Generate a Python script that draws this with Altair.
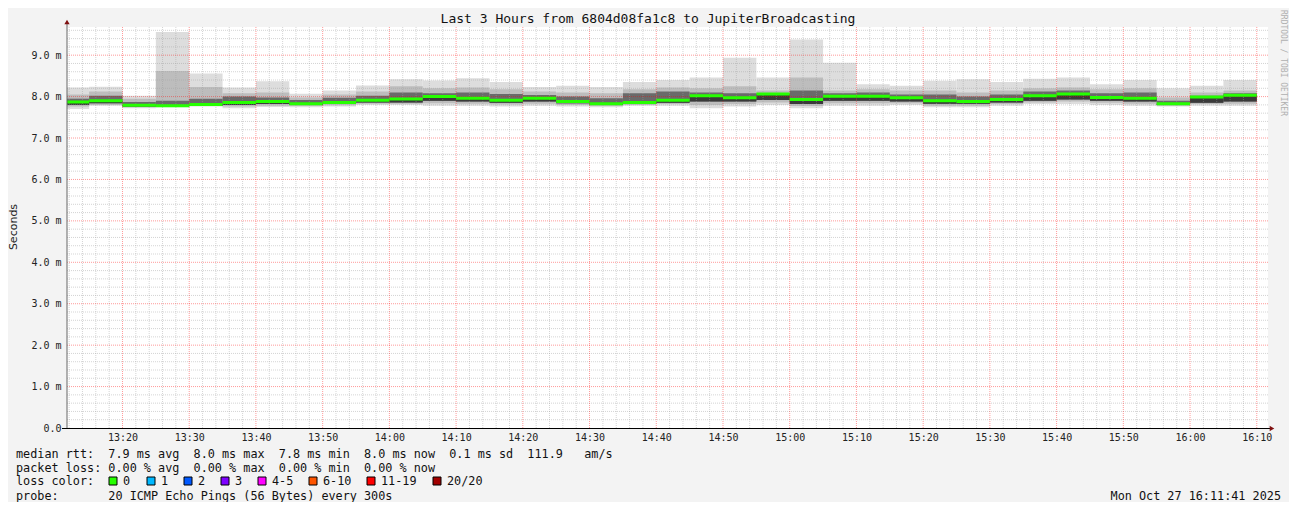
import altair as alt
import pandas as pd

# ---------------- data ----------------
window_start = "13:11:41"
window_end = "16:11:41"

bar_end = ["13:15", "13:20", "13:25", "13:30", "13:35", "13:40", "13:45", "13:50",
           "13:55", "14:00", "14:05", "14:10", "14:15", "14:20", "14:25", "14:30",
           "14:35", "14:40", "14:45", "14:50", "14:55", "15:00", "15:05", "15:10",
           "15:15", "15:20", "15:25", "15:30", "15:35", "15:40", "15:45", "15:50",
           "15:55", "16:00", "16:05", "16:10"]

hi = [8.22, 8.24, 8.02, 9.56, 8.56, 8.22, 8.37, 8.07, 8.15, 8.27, 8.42, 8.39,
      8.44, 8.35, 8.23, 8.26, 8.23, 8.35, 8.40, 8.46, 8.94, 8.46, 9.38, 8.82,
      8.30, 8.26, 8.38, 8.42, 8.35, 8.43, 8.46, 8.30, 8.40, 8.20, 8.26, 8.40]
mid_hi = [8.05, 8.12, 7.95, 8.62, 8.23, 8.08, 8.10, 7.98, 8.05, 8.12, 8.25, 8.20,
          8.22, 8.18, 8.12, 8.10, 8.08, 8.18, 8.22, 8.20, 8.25, 8.15, 8.46, 8.15,
          8.18, 8.15, 8.15, 8.10, 8.15, 8.20, 8.22, 8.18, 8.20, 7.98, 8.10, 8.15]
dark_hi = [7.95, 8.02, 7.87, 7.90, 7.95, 8.00, 7.98, 7.92, 7.97, 8.02, 8.10, 8.08,
           8.10, 8.06, 8.04, 8.00, 7.96, 8.08, 8.12, 8.10, 8.08, 8.08, 8.15, 8.08,
           8.10, 8.05, 8.05, 8.00, 8.05, 8.12, 8.15, 8.08, 8.10, 7.90, 8.02, 8.08]
median = [7.87, 7.90, 7.79, 7.78, 7.81, 7.86, 7.88, 7.83, 7.86, 7.91, 7.94, 8.00,
          7.96, 7.91, 7.96, 7.88, 7.83, 7.86, 7.91, 8.02, 7.97, 8.06, 7.93, 8.01,
          8.01, 7.97, 7.90, 7.88, 7.93, 8.02, 8.06, 7.98, 7.96, 7.83, 7.99, 8.03]
dark_lo = [7.80, 7.84, 7.76, 7.76, 7.78, 7.80, 7.82, 7.80, 7.82, 7.86, 7.86, 7.90,
           7.88, 7.85, 7.88, 7.84, 7.80, 7.82, 7.85, 7.88, 7.88, 7.92, 7.82, 7.90,
           7.90, 7.88, 7.83, 7.83, 7.86, 7.90, 7.93, 7.90, 7.88, 7.80, 7.85, 7.88]
mid_lo = [7.76, 7.80, 7.74, 7.75, 7.77, 7.76, 7.78, 7.77, 7.79, 7.83, 7.83, 7.84,
          7.83, 7.81, 7.83, 7.80, 7.77, 7.80, 7.82, 7.80, 7.82, 7.86, 7.77, 7.84,
          7.84, 7.84, 7.78, 7.78, 7.82, 7.86, 7.88, 7.85, 7.83, 7.78, 7.82, 7.83]
lo = [7.70, 7.78, 7.72, 7.74, 7.76, 7.72, 7.75, 7.74, 7.76, 7.80, 7.80, 7.78,
      7.78, 7.76, 7.78, 7.76, 7.74, 7.78, 7.78, 7.72, 7.76, 7.80, 7.72, 7.78,
      7.78, 7.80, 7.74, 7.74, 7.78, 7.82, 7.82, 7.80, 7.78, 7.76, 7.78, 7.78]

y_ticks = [0, 1, 2, 3, 4, 5, 6, 7, 8, 9]
x_tick_labels = ["13:20", "13:30", "13:40", "13:50", "14:00", "14:10", "14:20",
                 "14:30", "14:40", "14:50", "15:00", "15:10", "15:20", "15:30",
                 "15:40", "15:50", "16:00", "16:10"]

title_text = "Last 3 Hours from 6804d08fa1c8 to JupiterBroadcasting"
legend_lines = [
    "median rtt:  7.9 ms avg  8.0 ms max  7.8 ms min  8.0 ms now  0.1 ms sd  111.9   am/s",
    "packet loss: 0.00 % avg  0.00 % max  0.00 % min  0.00 % now",
    "loss color:",
    "probe:       20 ICMP Echo Pings (56 Bytes) every 300s",
]
loss_labels = ["0", "1", "2", "3", "4-5", "6-10", "11-19", "20/20"]
loss_colors = ["#26FF00", "#00B8FF", "#0059FF", "#7E00FF", "#FF00FF", "#FF5500", "#FF0000", "#A10000"]
timestamp = "Mon Oct 27 16:11:41 2025"
side_text = "RRDTOOL / TOBI OETIKER"


def to_min(s):
    parts = [int(p) for p in s.split(":")]
    while len(parts) < 3:
        parts.append(0)
    return parts[0] * 60 + parts[1] + parts[2] / 60.0


x0 = to_min(window_start)
x1 = to_min(window_end)
ends = [to_min(s) for s in bar_end]
starts = [x0] + ends[:-1]

df = pd.DataFrame({
    "start": starts, "end": ends, "hi": hi, "mid_hi": mid_hi, "dark_hi": dark_hi,
    "median": median, "dark_lo": dark_lo, "mid_lo": mid_lo, "lo": lo,
})

W, H = 1201, 401
MONO = "DejaVu Sans Mono"

xscale = alt.Scale(domain=[x0, x1], nice=False, zero=False)
yscale = alt.Scale(domain=[0, 9.68], nice=False, zero=True)

x_vals = [to_min(s) for s in x_tick_labels]

x_axis = alt.Axis(values=x_vals, grid=False, domain=False, ticks=False,
                  labelExpr="(floor(datum.value/60) < 10 ? '0' : '') + floor(datum.value/60) + ':' + (round(datum.value % 60) < 10 ? '0' : '') + round(datum.value % 60)",
                  labelFont=MONO, labelFontSize=10, labelColor="#222222",
                  labelPadding=4, title=None, labelFlush=False, labelOverlap=False)
y_axis = alt.Axis(values=y_ticks, grid=False, domain=False, ticks=False,
                  labelExpr="datum.value == 0 ? '0.0' : format(datum.value, '.1f') + ' m'",
                  labelFont=MONO, labelFontSize=10, labelColor="#222222",
                  labelPadding=6, title=None)


def X(field):
    return alt.X(field + ":Q", scale=xscale, axis=x_axis, title=None)


def Y(field):
    return alt.Y(field + ":Q", scale=yscale, axis=y_axis, title=None)


base = alt.Chart(df)


def band(lo_col, hi_col, color):
    return base.mark_rect(color=color, opacity=1).encode(
        x=X("start"), x2="end:Q", y=Y(lo_col), y2=hi_col + ":Q")


layers = [
    band("lo", "hi", "#DDDDDD"),
    band("mid_lo", "mid_hi", "#BDBDBD"),
    band("dark_lo", "dark_hi", "#6A6A6A"),
    band("dark_lo", "median", "#3A3A3A"),
]

# grid
h_minor = [round(0.2 * i, 1) for i in range(1, 49) if i % 5 != 0]
h_major = [float(v) for v in y_ticks if v > 0]
v_all = list(range(int(x0) + 1, int(x1) + 1))
v_minor = [m for m in v_all if m % 2 == 0 and m % 10 != 0]
v_major = [m for m in v_all if m % 10 == 0]


def hgrid(vals, color, op):
    return alt.Chart(pd.DataFrame({"v": vals})).mark_rule(
        stroke=color, strokeOpacity=op, strokeWidth=1, strokeDash=[1, 1]).encode(
        y=Y("v"), x=alt.value(0), x2=alt.value(W))


def vgrid(vals, color, op):
    return alt.Chart(pd.DataFrame({"v": vals})).mark_rule(
        stroke=color, strokeOpacity=op, strokeWidth=1, strokeDash=[1, 1]).encode(
        x=X("v"), y=alt.value(0), y2=alt.value(H))


layers += [
    hgrid(h_minor, "#A0A0A0", 0.45),
    vgrid(v_minor, "#A0A0A0", 0.45),
    hgrid(h_major, "#FF0000", 0.4),
    vgrid(v_major, "#FF0000", 0.4),
]

# median line
layers.append(base.mark_rule(color="#26FF00", strokeWidth=3).encode(
    x=X("start"), x2="end:Q", y=Y("median")))

# axis lines and arrows
one = pd.DataFrame({"a": [0]})
layers.append(alt.Chart(one).mark_rule(color="#666666", strokeWidth=1).encode(
    x=alt.value(0), y=alt.value(-5), y2=alt.value(H + 1)))
layers.append(alt.Chart(one).mark_rule(color="#000000", strokeWidth=1).encode(
    x=alt.value(-5), x2=alt.value(W + 3), y=alt.value(H + 0.5)))
layers.append(alt.Chart(one).mark_point(shape="triangle-up", filled=True, size=28,
                                        color="#7F1010", opacity=1).encode(
    x=alt.value(0), y=alt.value(-5)))
layers.append(alt.Chart(one).mark_point(shape="triangle-right", filled=True, size=28,
                                        color="#7F1010", opacity=1).encode(
    x=alt.value(W + 4), y=alt.value(H + 0.5)))


def label(text, x, y, **kw):
    return alt.Chart(pd.DataFrame({"t": [text.replace(" ", "\u00a0")]})).mark_text(**kw).encode(
        x=alt.value(x), y=alt.value(y), text="t:N")


layers.append(label(title_text, 581, -8.5, font=MONO, fontSize=13, color="#111111",
                    align="center", baseline="middle"))
layers.append(label("Seconds", -53, 200, font="DejaVu Sans", fontSize=11, color="#222222",
                    align="center", baseline="middle", angle=270))
layers.append(label(side_text, 1216, 36, font=MONO, fontSize=8, color="#B0B0B0",
                    align="center", baseline="middle", angle=90))

row_y = [427, 440.5, 454, 468.5]
for txt, yy in zip(legend_lines, row_y):
    layers.append(label(txt, -51, yy, font=MONO, fontSize=11.8, color="#111111",
                        align="left", baseline="middle"))
layers.append(label(timestamp, 1214, 468.5, font=MONO, fontSize=11.8, color="#111111",
                    align="right", baseline="middle"))

# loss colour boxes (pixel layout)
box_left = [42, 80, 117, 154, 191, 242, 300, 366]
for bx, col, lab in zip(box_left, loss_colors, loss_labels):
    layers.append(alt.Chart(one).mark_rect(color=col, stroke="#000000", strokeWidth=1).encode(
        x=alt.value(bx), x2=alt.value(bx + 8), y=alt.value(450), y2=alt.value(458)))
    layers.append(label(lab, bx + 14, 454, font=MONO, fontSize=11.8, color="#111111",
                        align="left", baseline="middle"))

chart = alt.layer(*layers).properties(
    width=W, height=H,
    autosize=alt.AutoSizeParams(type="none"),
    padding={"left": 59, "top": 19, "right": 21, "bottom": 74},
    background="#F3F3F3",
).configure_view(fill="white", stroke=None)

chart.save("out.html", embed_options={"renderer": "svg", "actions": False})
